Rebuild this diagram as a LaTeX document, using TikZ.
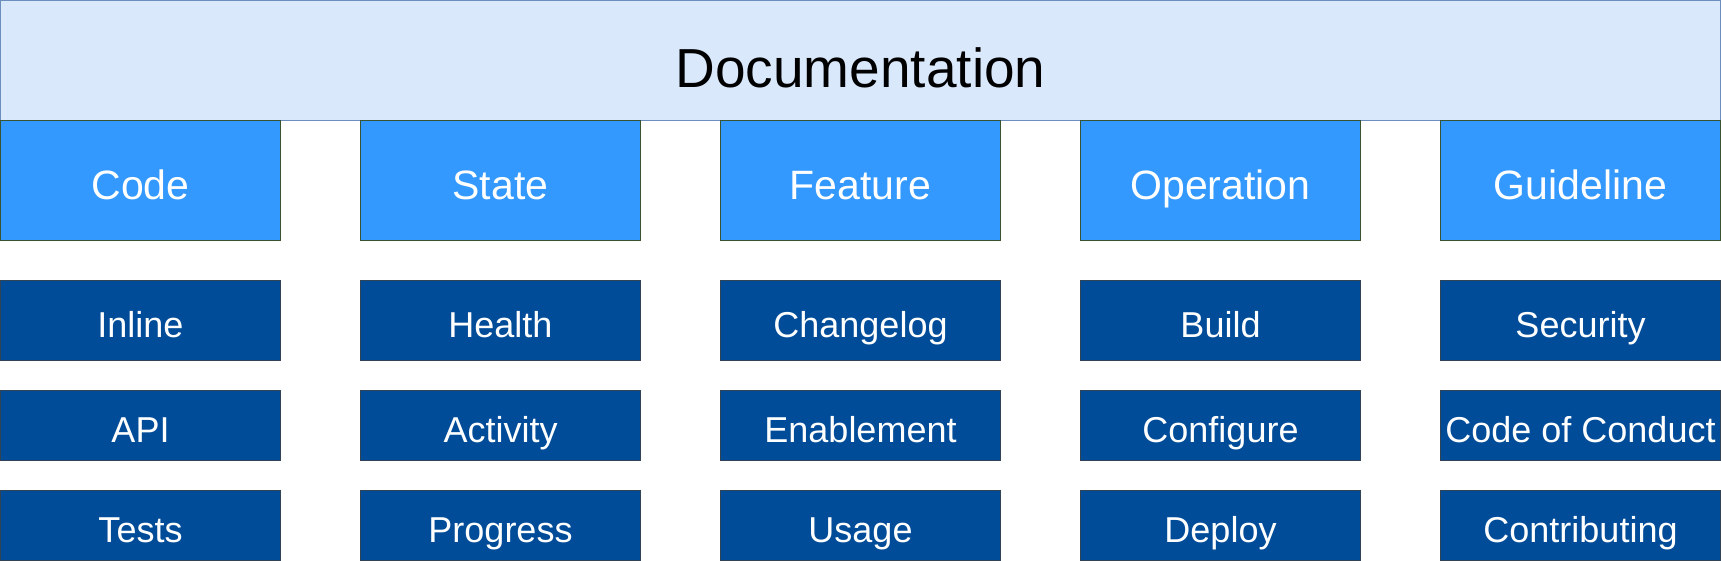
\documentclass[tikz,border=0pt]{standalone}
\usepackage{fontspec}
\setmainfont{Liberation Sans}
\definecolor{titlefill}{HTML}{DAE8FC}
\definecolor{titledraw}{HTML}{6C8EBF}
\definecolor{catfill}{HTML}{3399FF}
\definecolor{catdraw}{HTML}{3A5431}
\definecolor{itemfill}{HTML}{004C99}
\definecolor{itemdraw}{HTML}{314354}
\begin{document}
\begin{tikzpicture}[x=1pt,y=-1pt,
  titlebox/.style={draw=titledraw,fill=titlefill,line width=1pt,inner sep=0pt,
    minimum width=1720pt,minimum height=120pt,anchor=center,
    text height=53.4pt,text depth=0pt,font=\fontsize{55}{60}\selectfont},
  catbox/.style={draw=catdraw,fill=catfill,line width=1pt,inner sep=0pt,
    minimum width=280pt,minimum height=120pt,anchor=center,text=white,
    text height=38pt,text depth=0pt,font=\fontsize{41}{46}\selectfont},
  itembox/.style={draw=itemdraw,fill=itemfill,line width=1pt,inner sep=0pt,
    minimum width=280pt,anchor=center,text=white,
    text height=34pt,text depth=0pt,font=\fontsize{36}{40}\selectfont},
  rowa/.style={itembox,minimum height=80pt},
  rowb/.style={itembox,minimum height=70pt}]
\useasboundingbox (-0.5,-0.5) rectangle (1720.5,560.5);
\node[titlebox] (doc) at (860,60) {Documentation};
% categories
\node[catbox] (code) at (140,180) {Code};
\node[catbox] (state) at (500,180) {State};
\node[catbox] (feature) at (860,180) {Feature};
\node[catbox] (operation) at (1220,180) {Operation};
\node[catbox] (guideline) at (1580,180) {Guideline};
% row 1
\node[rowa] (inline) at (140,320) {Inline};
\node[rowa] (health) at (500,320) {Health};
\node[rowa] (changelog) at (860,320) {Changelog};
\node[rowa] (build) at (1220,320) {Build};
\node[rowa] (security) at (1580,320) {Security};
% row 2
\node[rowb] (api) at (140,425) {API};
\node[rowb] (activity) at (500,425) {Activity};
\node[rowb] (enablement) at (860,425) {Enablement};
\node[rowb] (configure) at (1220,425) {Configure};
\node[rowb] (conduct) at (1580,425) {Code of Conduct};
% row 3
\node[rowb] (tests) at (140,525) {Tests};
\node[rowb] (progress) at (500,525) {Progress};
\node[rowb] (usage) at (860,525) {Usage};
\node[rowb] (deploy) at (1220,525) {Deploy};
\node[rowb] (contributing) at (1580,525) {Contributing};
\end{tikzpicture}
\end{document}
